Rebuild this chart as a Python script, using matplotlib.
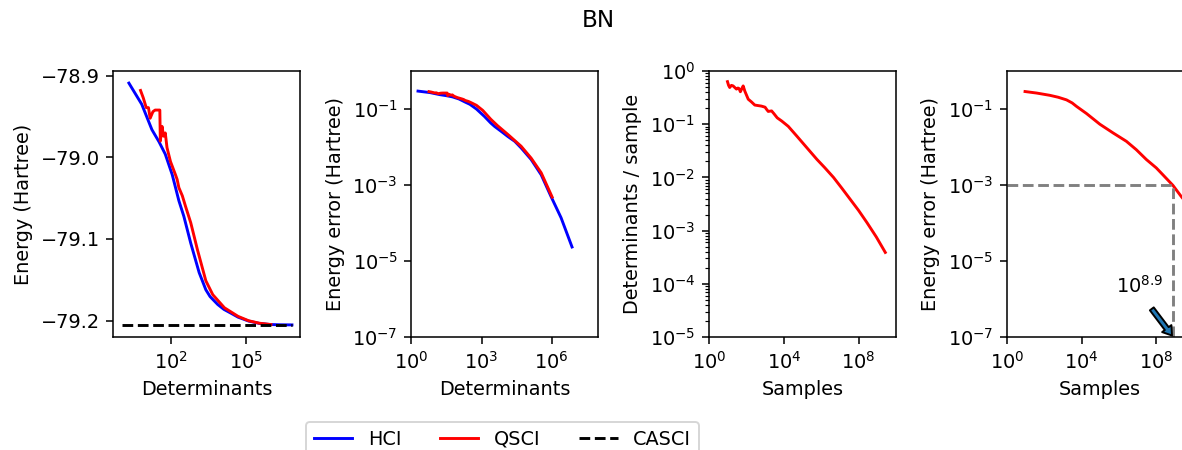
import numpy as np
import matplotlib
matplotlib.use("Agg")
import matplotlib.pyplot as plt

# data (log10 of x, errors in Hartree)

casci_energy = -79.2052

hci_log_dets = [0.28, 0.80, 1.21, 1.50, 1.75, 2.03, 2.30, 2.50, 2.78, 3.12, 3.39,
                3.56, 3.87, 4.12, 4.42, 4.69, 5.12, 5.55, 5.97, 6.40, 6.87]
hci_err = [0.296, 0.270, 0.239, 0.224, 0.209, 0.184, 0.152, 0.133, 0.100, 0.064, 0.043,
           0.0347, 0.025, 0.019, 0.0141, 0.0095, 0.0047, 0.00186, 0.0005, 0.000138, 0.0000234]

qsci_log_dets = [0.75, 0.86, 0.98, 1.07, 1.14, 1.25, 1.34, 1.53, 1.55, 1.62, 1.68, 1.75,
                 1.82, 1.96, 2.16, 2.23, 2.30, 2.44, 2.57, 2.78, 3.05, 3.39, 3.67, 4.14,
                 4.69, 5.12, 5.55, 6.02]
qsci_err = [0.287, 0.278, 0.266, 0.266, 0.253, 0.261, 0.263, 0.263, 0.225, 0.243, 0.231, 0.235,
            0.217, 0.200, 0.184, 0.178, 0.168, 0.158, 0.145, 0.125, 0.092, 0.054, 0.037, 0.021,
            0.0105, 0.0051, 0.0021, 0.00048]

samples_log = [0.99, 1.05, 1.11, 1.20, 1.29, 1.38, 1.47, 1.55, 1.61, 1.68, 1.76, 1.83,
               1.92, 2.10, 2.27, 2.45, 2.81, 3.00, 3.08, 3.17, 3.35, 3.47, 3.65, 3.89,
               4.24, 4.69, 5.23, 5.77, 6.20, 6.66, 7.10, 7.55, 8.00, 8.45, 8.95, 9.43]
dets_per_sample_log = [-0.20, -0.27, -0.31, -0.27, -0.28, -0.31, -0.34, -0.32, -0.33, -0.39, -0.33, -0.28,
                       -0.38, -0.53, -0.58, -0.64, -0.66, -0.68, -0.72, -0.76, -0.75, -0.80, -0.88, -0.94,
                       -1.04, -1.22, -1.44, -1.66, -1.82, -2.00, -2.20, -2.41, -2.62, -2.85, -3.12, -3.41]

err_samples_log = [0.98, 1.60, 2.31, 2.75, 3.20, 3.50, 3.73, 4.27, 4.98, 5.69, 6.40, 6.93,
                   7.47, 8.00, 8.35, 8.89, 9.33, 9.43]
err_vs_samples_log = [-0.54, -0.58, -0.64, -0.69, -0.76, -0.84, -0.93, -1.12, -1.40, -1.63, -1.85, -2.07,
                      -2.33, -2.55, -2.73, -3.01, -3.30, -3.36]

target_err = 1e-3
samples_at_target_log = 8.9

hci_dets = 10 ** np.array(hci_log_dets)
hci_e = casci_energy + np.array(hci_err)
qsci_dets = 10 ** np.array(qsci_log_dets)
qsci_e = casci_energy + np.array(qsci_err)
samples = 10 ** np.array(samples_log)
dps = 10 ** np.array(dets_per_sample_log)
samples_e = 10 ** np.array(err_samples_log)
err_s = 10 ** np.array(err_vs_samples_log)
x_target = 10 ** samples_at_target_log

# figure

fig = plt.figure(figsize=(1182 / 139, 450 / 139), dpi=139)
w, h, b = 0.1582, 0.5911, 0.2511
ax1 = fig.add_axes([0.0960, b, w, h])
ax2 = fig.add_axes([0.3481, b, w, h])
ax3 = fig.add_axes([0.5998, b, w, h])
ax4 = fig.add_axes([0.8517, b, w, h])

# energy
ax1.plot(hci_dets, hci_e, color='blue', label='HCI')
ax1.plot(qsci_dets, qsci_e, color='red', label='QSCI')
ax1.plot([1, hci_dets.max()], [casci_energy, casci_energy], 'k--', label='CASCI')
ax1.set_xscale('log')
ax1.set_xlabel('Determinants')
ax1.set_ylabel('Energy (Hartree)')

# energy error
ax2.plot(hci_dets, hci_err, color='blue')
ax2.plot(qsci_dets, qsci_err, color='red')
ax2.set_xscale('log')
ax2.set_yscale('log')
ax2.set_xlim(1, 1e8)
ax2.set_ylim(1e-7, 1)
ax2.set_xlabel('Determinants')
ax2.set_ylabel('Energy error (Hartree)')

# determinants per sample
ax3.plot(samples, dps, color='red')
ax3.set_xscale('log')
ax3.set_yscale('log')
ax3.set_xlim(1, 1e10)
ax3.set_ylim(1e-5, 1)
ax3.set_xlabel('Samples')
ax3.set_ylabel('Determinants / sample')

# error vs samples
ax4.plot(samples_e, err_s, color='red')
ax4.plot([1, x_target, x_target], [target_err, target_err, 1e-7], '--', color='gray')
ax4.set_xscale('log')
ax4.set_yscale('log')
ax4.set_xlim(1, 1e10)
ax4.set_ylim(1e-7, 1)
ax4.set_xlabel('Samples')
ax4.set_ylabel('Energy error (Hartree)')
ax4.annotate('', xy=(x_target, 1e-7), xytext=(10 ** 7.7, 10 ** -6.22),
             arrowprops=dict(width=2.5, headwidth=6, headlength=4.5, shrink=0.05))
ax4.text(10 ** 7.1, 10 ** -5.83, r'$10^{%.1f}$' % samples_at_target_log, ha='center', va='baseline')

fig.suptitle('BN', x=0.506)
fig.legend(loc='upper center', bbox_to_anchor=(0.4251, 0.0622), ncol=3, borderaxespad=0)

fig.savefig('out.png', dpi=139)
